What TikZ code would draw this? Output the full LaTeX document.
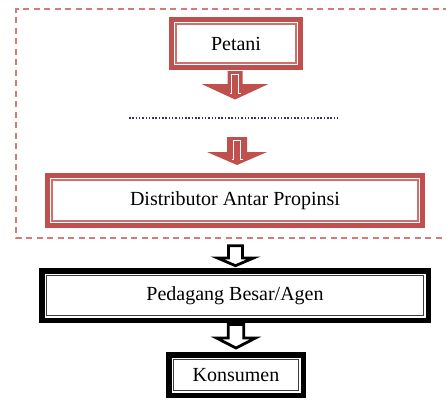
\documentclass[tikz,border=0pt]{standalone}
\usepackage{fontspec}
\setmainfont{Liberation Serif}
\usetikzlibrary{calc}
\definecolor{boxred}{RGB}{192,80,77}
\definecolor{boxredlight}{RGB}{208,112,109}
\definecolor{dashred}{RGB}{214,122,120}
\definecolor{dotcol}{RGB}{55,55,100}
\definecolor{innergray}{RGB}{60,60,60}
\tikzset{
  label text/.style={font=\fontsize{20}{24}\selectfont, text=black, inner sep=0pt},
  redbox/.style={draw=boxred, line width=5pt, fill=white, label text,
    path picture={\draw[boxredlight, line width=1.3pt]
      ([shift={(4.5pt,-4.5pt)}]path picture bounding box.north west) rectangle
      ([shift={(-4.5pt,4.5pt)}]path picture bounding box.south east);}},
  blackbox/.style={draw=black, line width=5.5pt, fill=white, label text,
    path picture={\draw[innergray, line width=1.3pt]
      ([shift={(4.9pt,-4.9pt)}]path picture bounding box.north west) rectangle
      ([shift={(-4.9pt,4.9pt)}]path picture bounding box.south east);}},
  dashframe/.style={draw=dashred, line width=1.3pt, dash pattern=on 6pt off 4.5pt},
  dotline/.style={draw=dotcol, line width=1.7pt, dash pattern=on 1.5pt off 1.8pt},
  % block arrow: shaft half width, head half width, head start, tip (downwards)
  pics/blockarrow/.style n args={4}{code={
    \path[pic actions] (-#1,0) -- (-#1,#3) -- (-#2,#3) -- (0,#4) -- (#2,#3)
      -- (#1,#3) -- (#1,0) -- cycle;}},
  pics/redarrow/.style n args={4}{code={
    \path[fill=boxred] (-#1,0) -- (-#1,#3) -- (-#2,#3) -- (0,#4) -- (#2,#3)
      -- (#1,#3) -- (#1,0) -- cycle;
    \draw[white, line width=0.8pt] (-5.5,#4-6) -- (-3.3,#4-6) -- (-3.3,3.5)
      -- (3.3,3.5) -- (3.3,#4-6) -- (5.5,#4-6);}},
  outlinearrow/.style={draw=black, fill=white, line width=2.8pt, line join=miter}
}
\begin{document}
\begin{tikzpicture}[x=1pt, y=-1pt]
\useasboundingbox (0,0) rectangle (446,402);

% dashed frame around the producer side (open to the right)
\draw[dashframe] (470,9) -- (16,9) -- (16,238) -- (470,238);

% boxes
\node[redbox, minimum width=129pt, minimum height=48pt] (petani) at (236,43.5) {Petani};
\node[redbox, minimum width=375pt, minimum height=50pt] (dist) at (235,200.5) {Distributor Antar Propinsi};
\node[blackbox, minimum width=386.5pt, minimum height=49.5pt] (agen) at (235,295.5) {Pedagang Besar/Agen};
\node[blackbox, minimum width=134.5pt, minimum height=40.5pt] (kons) at (236,375) {Konsumen};

% dotted line standing for the intermediate traders
\coordinate (dl) at (129,118);
\coordinate (dr) at (339,118);
\draw[dotline] (dl) -- (dr);

% arrows
\pic at ($(petani.south)+(-1,1)$) {redarrow={7.5}{33.5}{13}{28.5}};
\pic at ($(dl)!0.5!(dr)+(3,19)$) {redarrow={10}{30}{15}{28}};
\pic[outlinearrow] at ($(agen.north)+(0.5,-22.3)$) {blockarrow={7}{18}{12.3}{20}};
\pic[outlinearrow] at ($(agen.south)+(1,1.5)$) {blockarrow={7.8}{19.5}{13.5}{23.5}};
\end{tikzpicture}
\end{document}
